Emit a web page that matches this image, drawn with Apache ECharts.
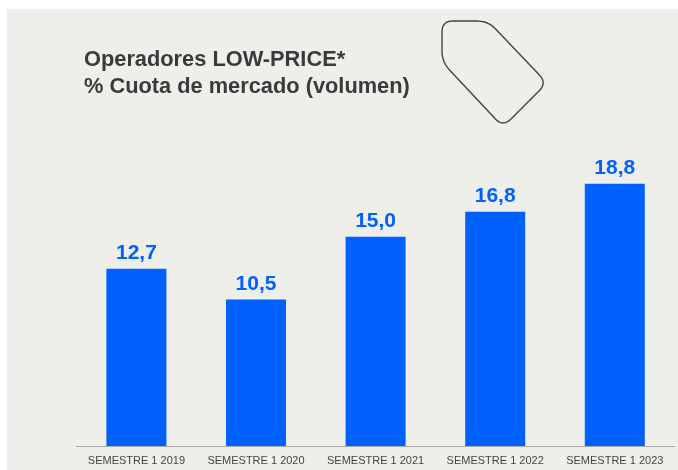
<!DOCTYPE html>
<html><head><meta charset="utf-8">
<style>html,body{margin:0;padding:0;background:#fff}#c{width:678px;height:470px}</style>
<script src="https://cdn.jsdelivr.net/npm/echarts@6/dist/echarts.min.js"></script>
</head><body><div id="c"></div>
<script>
const categories = ["SEMESTRE 1 2019","SEMESTRE 1 2020","SEMESTRE 1 2021","SEMESTRE 1 2022","SEMESTRE 1 2023"];
const cuota = [12.7,10.5,15.0,16.8,18.8];
// decorative price-tag outline: rounded polygon
function rounded(vs,r){
  const out=[];
  vs.forEach((v,i)=>{
    const a=vs[(i+vs.length-1)%vs.length], b=vs[(i+1)%vs.length];
    const ua=Math.hypot(a[0]-v[0],a[1]-v[1]), ub=Math.hypot(b[0]-v[0],b[1]-v[1]);
    const p0=[v[0]+(a[0]-v[0])*r/ua,v[1]+(a[1]-v[1])*r/ua], p2=[v[0]+(b[0]-v[0])*r/ub,v[1]+(b[1]-v[1])*r/ub];
    for(let k=0;k<=10;k++){const t=k/10,s=1-t;
      out.push([s*s*p0[0]+2*s*t*v[0]+t*t*p2[0],s*s*p0[1]+2*s*t*v[1]+t*t*p2[1]]);}
  });
  return out;
}
const chart = echarts.init(document.getElementById('c'),null,{renderer:'canvas'});
chart.setOption({
  animation:false,
  backgroundColor:'#fff',
  title:{text:'Operadores LOW-PRICE*\n% Cuota de mercado (volumen)',left:84,top:46,padding:0,
    textStyle:{fontFamily:'Liberation Sans',fontSize:21.8,fontWeight:'bold',color:'#3a3a3a',lineHeight:27}},
  grid:{left:76.6,right:3.4,top:167,bottom:24},
  xAxis:{type:'category',data:categories,
    axisLine:{lineStyle:{color:'#a6a6a6',width:1}},axisTick:{show:false},
    axisLabel:{interval:0,margin:9,fontFamily:'Liberation Sans',fontSize:11,color:'#444444'}},
  yAxis:{type:'value',min:0,max:20,show:false,splitLine:{show:false}},
  series:[{type:'bar',data:cuota,barWidth:60,itemStyle:{color:'#0061ff'},
    label:{show:true,position:'top',distance:5,fontFamily:'Liberation Sans',fontSize:21,fontWeight:'bold',color:'#0061ff',
      formatter:p=>p.value.toFixed(1).replace('.',',')}}],
  graphic:[
    {type:'rect',z:-10,silent:true,shape:{x:7,y:9,width:671,height:461},style:{fill:'#eeeeeb'}},
    {type:'polygon',z:5,silent:true,shape:{points:rounded([[442,21],[488,21],[547,83],[503,127],[442,62]],11)},
      style:{fill:'none',stroke:'#444444',lineWidth:1.4}}
  ]
});
</script></body></html>
